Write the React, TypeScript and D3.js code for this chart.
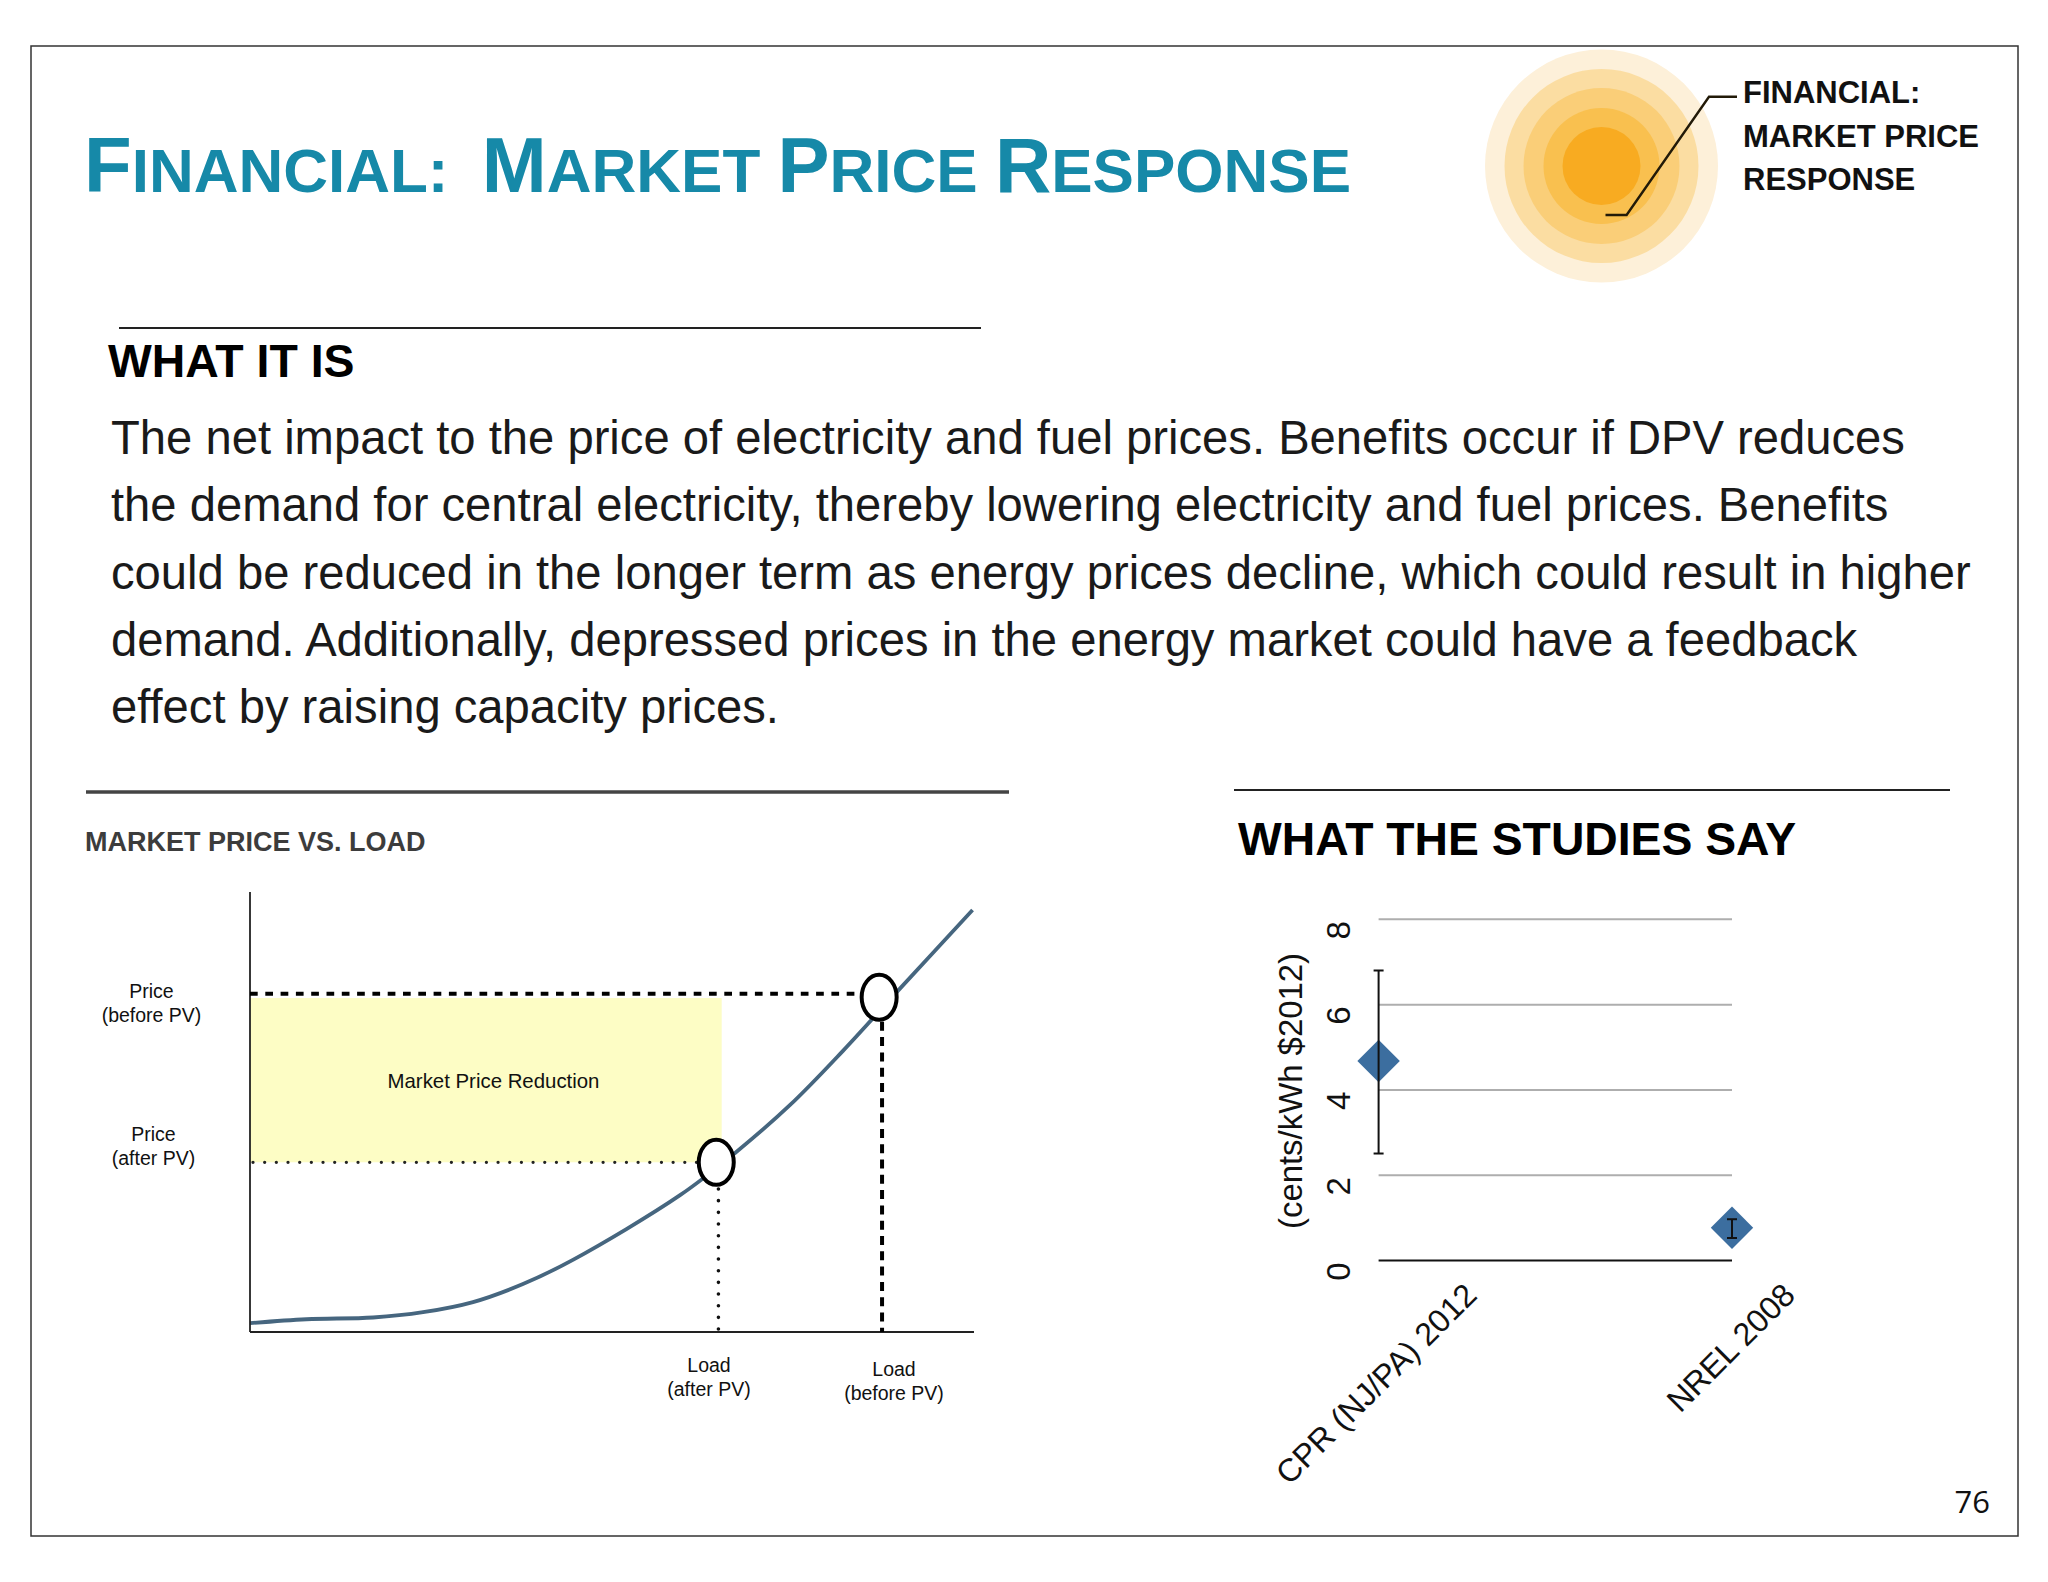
import * as d3 from "d3";

const FONT = "'Liberation Sans', Arial, sans-serif";

// right chart: what the studies say
const studies = ["CPR (NJ/PA) 2012", "NREL 2008"];
const studyValues = [4.68, 0.77];
const studyLow = [2.51, 0.53];
const studyHigh = [6.8, 0.97];
const yTicks = [0, 2, 4, 6, 8];

// left chart: market price vs load, both axes 0-100 (no units in the source)
const curveLoad = [0, 7.8, 17, 23.9, 30.8, 37.7, 44.6, 59.4, 67, 74.6, 81.9, 89.8, 99.8];
const curvePrice = [2, 2.9, 3.3, 4.5, 6.8, 10.9, 16.4, 31.1, 40.7, 51.6, 63.9, 78.1, 95.9];
const loadAfter = 64.4;
const loadBefore = 86.9;
const priceAfter = 38.57;
const priceBefore = 76.07;

const bodyLines = [
  "The net impact to the price of electricity and fuel prices. Benefits occur if DPV reduces",
  "the demand for central electricity, thereby lowering electricity and fuel prices. Benefits",
  "could be reduced in the longer term as energy prices decline, which could result in higher",
  "demand. Additionally, depressed prices in the energy market could have a feedback",
  "effect by raising capacity prices.",
];
const titleParts = [
  ["F", "INANCIAL:"],
  ["M", "ARKET"],
  ["P", "RICE"],
  ["R", "ESPONSE"],
];
const sunRings = [
  { r: 116.5, fill: "#fdf0d9" },
  { r: 97, fill: "#fbdda2" },
  { r: 78, fill: "#face78" },
  { r: 58, fill: "#f9c04f" },
  { r: 39, fill: "#f8ab21" },
];
const calloutLines = ["FINANCIAL:", "MARKET PRICE", "RESPONSE"];

function MarketChart() {
  const x = d3.scaleLinear().domain([0, 100]).range([250, 974]);
  const y = d3.scaleLinear().domain([0, 100]).range([1332, 892]);
  const line = d3
    .line<number>()
    .x((d) => x(d))
    .y((_, i) => y(curvePrice[i]))
    .curve(d3.curveCatmullRom.alpha(0.5));

  const smallText = { fontFamily: FONT, fontSize: 19.5, fill: "#111", textAnchor: "middle" as const };
  const dash = "7.7 7.6";
  const dot = "0 11.67";

  return (
    <g>
      <rect
        x={x(0)}
        y={y(75.9)}
        width={x(65.15) - x(0)}
        height={y(priceAfter) - y(75.9)}
        fill="#fdfdc5"
      />
      <path d={line(curveLoad) ?? ""} fill="none" stroke="#46667f" strokeWidth={3.8} />
      <line x1={x(0)} x2={x(0)} y1={y(100)} y2={y(0)} stroke="#222" strokeWidth={1.8} />
      <line x1={x(0)} x2={x(100)} y1={y(0)} y2={y(0)} stroke="#222" strokeWidth={2} />

      <line x1={x(0)} x2={x(84.2)} y1={y(76.9)} y2={y(76.9)} stroke="#000" strokeWidth={4} strokeDasharray={dash} />
      <line x1={x(0) + 3} x2={x(62)} y1={y(priceAfter)} y2={y(priceAfter)} stroke="#222" strokeWidth={3.3} strokeLinecap="round" strokeDasharray={dot} />
      <line x1={x(64.7)} x2={x(64.7)} y1={y(32.5)} y2={y(0)} stroke="#111" strokeWidth={3.6} strokeLinecap="round" strokeDasharray={dot} />
      <line x1={x(87.3)} x2={x(87.3)} y1={y(70.5)} y2={y(0)} stroke="#000" strokeWidth={4} strokeDasharray="9 6.3" />

      <ellipse cx={x(loadAfter)} cy={y(priceAfter)} rx={17.5} ry={22.5} fill="#fff" stroke="#000" strokeWidth={4} />
      <ellipse cx={x(loadBefore)} cy={y(priceBefore)} rx={17.5} ry={22.5} fill="#fff" stroke="#000" strokeWidth={4} />

      <text x={151.5} y={998} {...smallText}>Price</text>
      <text x={151.5} y={1021.5} {...smallText}>(before PV)</text>
      <text x={153.5} y={1141} {...smallText}>Price</text>
      <text x={153.5} y={1164.5} {...smallText}>(after PV)</text>
      <text x={493.5} y={1087.5} {...smallText} fontSize={20.4}>Market Price Reduction</text>
      <text x={709} y={1371.5} {...smallText}>Load</text>
      <text x={709} y={1395.5} {...smallText}>(after PV)</text>
      <text x={894} y={1375.5} {...smallText}>Load</text>
      <text x={894} y={1399.5} {...smallText}>(before PV)</text>
    </g>
  );
}

function StudiesChart() {
  const x = d3.scalePoint<string>().domain(studies).range([1378.6, 1732]);
  const y = d3.scaleLinear().domain([0, 8]).range([1260.6, 919.3]);
  const diamond = d3.symbol().type(d3.symbolSquare).size(900)() ?? "";
  const labelShift = [100, 65];

  return (
    <g fontFamily={FONT} fill="#111">
      {yTicks.map((t) => (
        <g key={t}>
          <line
            x1={x.range()[0]}
            x2={x.range()[1]}
            y1={y(t)}
            y2={y(t)}
            stroke={t === 0 ? "#111" : "#aeaeae"}
            strokeWidth={2}
          />
          <text
            transform={`translate(1350,${y(t) + 11}) rotate(-90)`}
            textAnchor="middle"
            fontSize={33}
          >
            {t}
          </text>
        </g>
      ))}
      <text transform="translate(1302,1091) rotate(-90)" textAnchor="middle" fontSize={32.9}>
        (cents/kWh $2012)
      </text>
      {studies.map((s, i) => (
        <g key={s}>
          <path
            d={diamond}
            transform={`translate(${x(s)},${y(studyValues[i])}) rotate(45)`}
            fill="#3c6e9f"
          />
          <line x1={x(s)} x2={x(s)} y1={y(studyLow[i])} y2={y(studyHigh[i])} stroke="#111" strokeWidth={2} />
          <line x1={x(s)! - 5} x2={x(s)! + 5} y1={y(studyLow[i])} y2={y(studyLow[i])} stroke="#111" strokeWidth={2} />
          <line x1={x(s)! - 5} x2={x(s)! + 5} y1={y(studyHigh[i])} y2={y(studyHigh[i])} stroke="#111" strokeWidth={2} />
          <text
            transform={`translate(${x(s)! + labelShift[i]},1297) rotate(-45)`}
            textAnchor="end"
            fontSize={32.2}
          >
            {s}
          </text>
        </g>
      ))}
    </g>
  );
}

export default function App() {
  return (
    <svg
      width={2048}
      height={1582}
      style={{ position: "absolute", left: 0, top: 0, display: "block", background: "#fff" }}
    >
      <rect x={31} y={46} width={1987} height={1490} fill="none" stroke="#333" strokeWidth={1.5} />

      <text x={84} y={192} fontFamily={FONT} fontWeight={700} fill="#1689a8">
        {titleParts.map(([cap, rest], i) => (
          <tspan key={cap + rest} dx={i === 1 ? 16 : 0}>
            <tspan fontSize={78}>{cap}</tspan>
            <tspan fontSize={62}>{rest + (i < titleParts.length - 1 ? " " : "")}</tspan>
          </tspan>
        ))}
      </text>

      {sunRings.map((d) => (
        <circle key={d.r} cx={1601.5} cy={166} r={d.r} fill={d.fill} />
      ))}
      <polyline
        points="1605.5,215 1626.6,215 1709,96.7 1737,96.7"
        fill="none"
        stroke="#221a08"
        strokeWidth={2.4}
      />
      {calloutLines.map((t, i) => (
        <text key={t} x={1743} y={103 + i * 43.7} fontFamily={FONT} fontWeight={700} fontSize={31} fill="#111">
          {t}
        </text>
      ))}

      <line x1={119} x2={981} y1={328} y2={328} stroke="#222" strokeWidth={2} />
      <text x={108} y={377} fontFamily={FONT} fontWeight={700} fontSize={46.4} fill="#000">
        WHAT IT IS
      </text>
      {bodyLines.map((t, i) => (
        <text key={t} x={111} y={454 + i * 67.3} fontFamily={FONT} fontSize={47.2} fill="#1a1a1a">
          {t}
        </text>
      ))}

      <line x1={86} x2={1009} y1={792} y2={792} stroke="#444" strokeWidth={3.6} />
      <text x={85} y={851} fontFamily={FONT} fontWeight={700} fontSize={27} fill="#3c3c3c">
        MARKET PRICE VS. LOAD
      </text>
      <MarketChart />

      <line x1={1234} x2={1950} y1={790} y2={790} stroke="#222" strokeWidth={2} />
      <text x={1238} y={855} fontFamily={FONT} fontWeight={700} fontSize={46.3} fill="#000">
        WHAT THE STUDIES SAY
      </text>
      <StudiesChart />

      <text x={1990} y={1513} textAnchor="end" fontFamily="'Open Sans', sans-serif" fontSize={31} fill="#111">
        76
      </text>
    </svg>
  );
}
